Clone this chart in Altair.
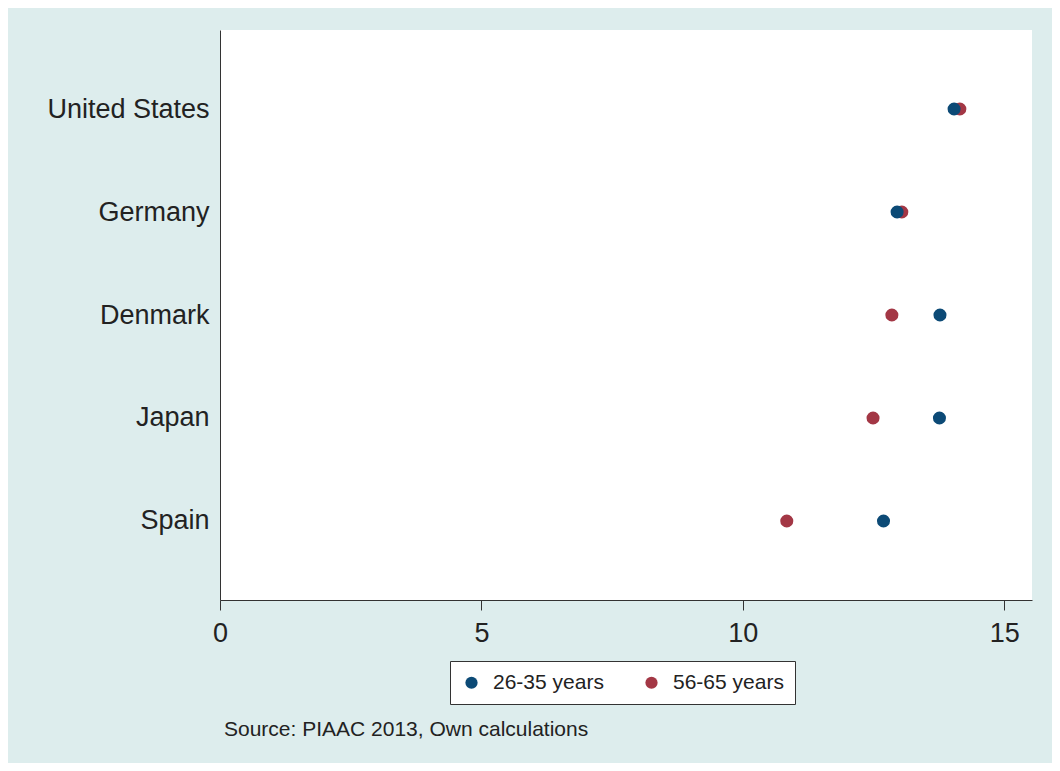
import altair as alt
import pandas as pd

countries = ["United States", "Germany", "Denmark", "Japan", "Spain"]
young = [14.04, 12.95, 13.77, 13.76, 12.69]   # 26-35 years
old = [14.15, 13.04, 12.85, 12.49, 10.84]     # 56-65 years
groups = ["26-35 years", "56-65 years"]
colors = ["#0c4a76", "#a33745"]
x_ticks = [0, 5, 10, 15]
source_note = "Source: PIAAC 2013, Own calculations"

rows = []
for c, v in zip(countries, old):
    rows.append({"country": c, "group": groups[1], "value": v})
for c, v in zip(countries, young):
    rows.append({"country": c, "group": groups[0], "value": v})
df = pd.DataFrame(rows)

FONT = "Liberation Sans"
BG = "#ddeded"

chart = alt.Chart(df).mark_circle(size=170, opacity=1).encode(
    x=alt.X("value:Q", title=None,
            scale=alt.Scale(domain=[0, 15.53], nice=False, zero=False),
            axis=alt.Axis(values=x_ticks, format="d", grid=False, tickSize=10,
                          labelPadding=10, labelFontSize=27, labelFont=FONT,
                          labelColor="#222222", domainColor="#333333",
                          tickColor="#333333", labelFlush=False)),
    y=alt.Y("country:N", title=None, sort=countries,
            scale=alt.Scale(type="point", padding=0.767),
            axis=alt.Axis(ticks=False, labelPadding=11, labelFontSize=27,
                          labelFont=FONT, labelColor="#222222",
                          domainColor="#333333", grid=False)),
    color=alt.Color("group:N", title=None,
                    scale=alt.Scale(domain=groups, range=colors),
                    legend=alt.Legend(orient="none", legendX=230, legendY=631,
                                      direction="horizontal", symbolType="circle",
                                      symbolSize=150, symbolStrokeWidth=0,
                                      labelFontSize=21, labelFont=FONT,
                                      labelColor="#222222", labelOffset=11,
                                      columnPadding=37, padding=11,
                                      fillColor="white", strokeColor="#333333")),
).properties(
    width=812, height=570,
    title=alt.TitleParams(source_note, orient="bottom", anchor="start",
                          frame="group", fontSize=21, font=FONT,
                          fontWeight="normal", color="#222222", dx=4, offset=14),
    autosize=alt.AutoSizeParams(type="none"),
    padding={"left": 212, "top": 22, "right": 20, "bottom": 163},
).configure(background=BG).configure_view(fill="white", stroke=None)

chart.save("out.html", embed_options={"renderer": "svg", "actions": False})
